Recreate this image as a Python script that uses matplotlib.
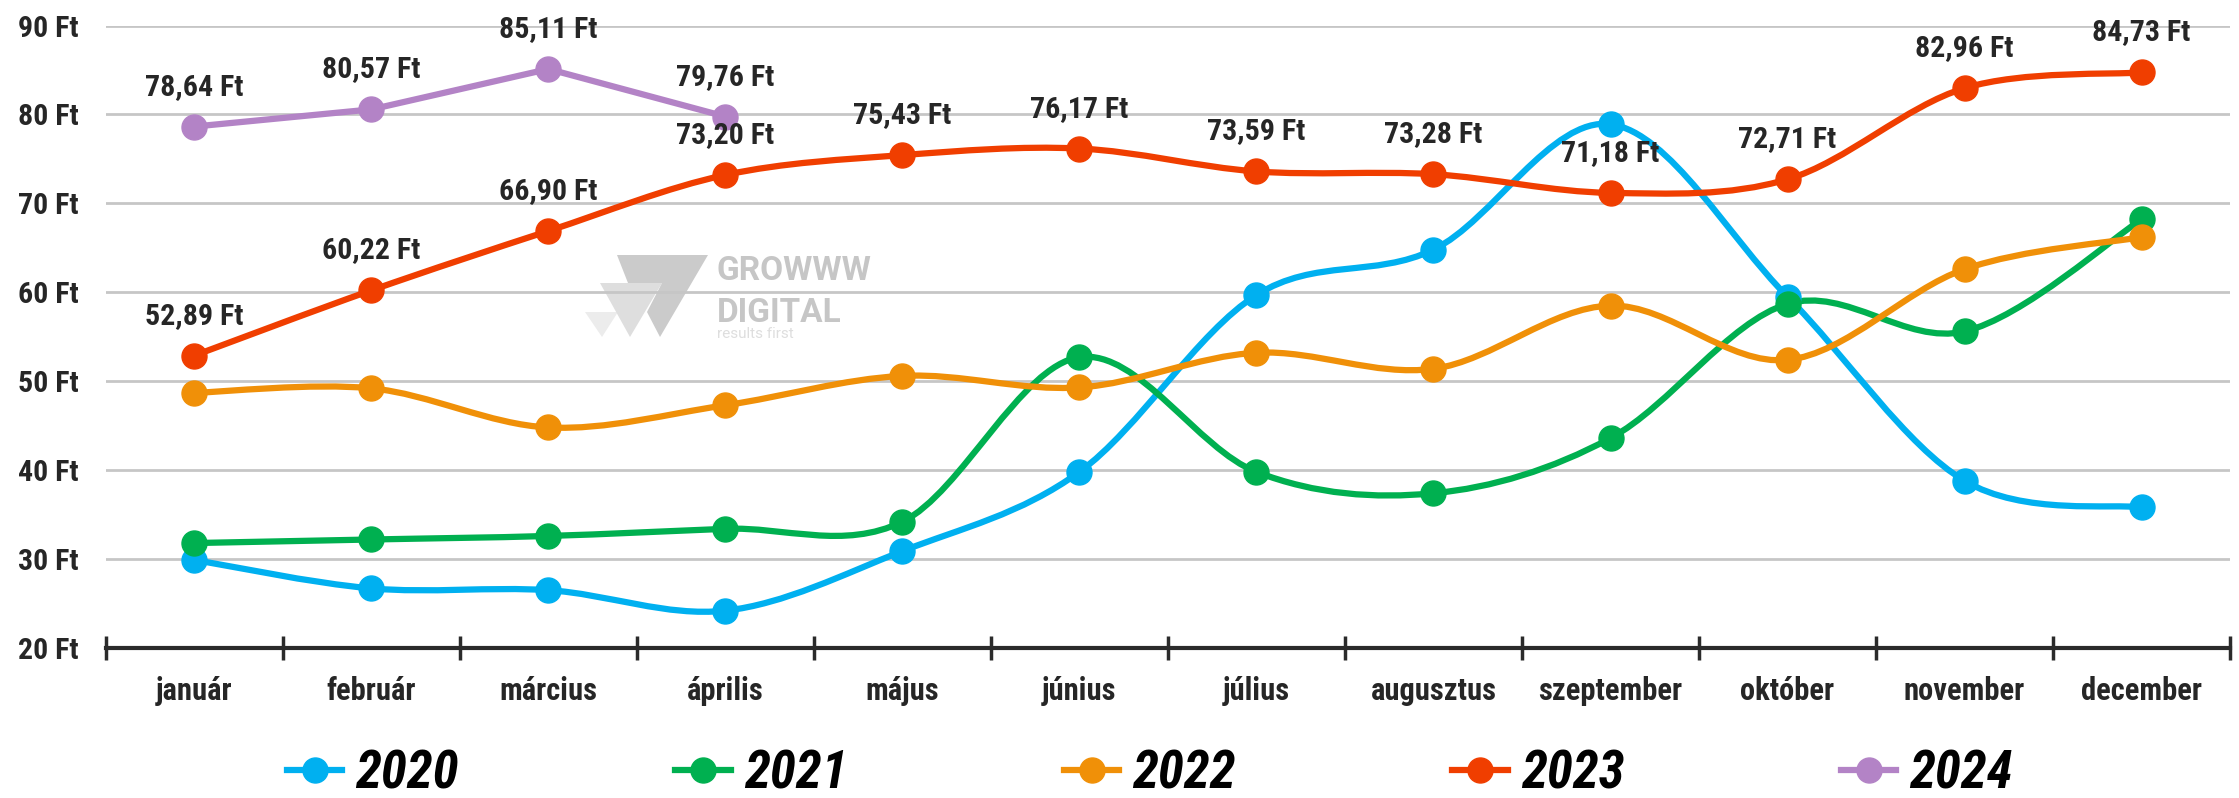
import numpy as np
import matplotlib
matplotlib.use("Agg")
import matplotlib.pyplot as plt
from matplotlib.path import Path
from matplotlib.patches import PathPatch, Polygon
from matplotlib.lines import Line2D

plt.rcParams['font.family'] = ['Roboto Condensed', 'Roboto', 'DejaVu Sans']

months = ["január", "február", "március", "április", "május", "június",
          "július", "augusztus", "szeptember", "október", "november", "december"]

y2020 = [29.9, 26.7, 26.5, 24.2, 30.9, 39.8, 59.7, 64.8, 78.9, 59.5, 38.8, 35.8]
y2021 = [31.8, 32.2, 32.6, 33.4, 34.2, 52.7, 39.8, 37.4, 43.6, 58.7, 55.6, 68.2]
y2022 = [48.7, 49.2, 44.8, 47.3, 50.6, 49.3, 53.2, 51.4, 58.5, 52.4, 62.6, 66.2]
y2023 = [52.89, 60.22, 66.90, 73.20, 75.43, 76.17, 73.59, 73.28, 71.18, 72.71, 82.96, 84.73]
y2024 = [78.64, 80.57, 85.11, 79.76]

series = [
    ("2020", y2020, "#00B0F0", True, False),
    ("2021", y2021, "#00B050", True, False),
    ("2022", y2022, "#F09008", True, False),
    ("2023", y2023, "#F03E00", True, True),
    ("2024", y2024, "#B383C6", False, True),
]

TXT = "#262626"
W, H = 2239, 798


def smooth_path(xs, ys):
    # Excel-like smoothed line: cubic bezier through the points
    p = np.column_stack([xs, ys]).astype(float)
    n = len(p)
    verts = [p[0]]
    codes = [Path.MOVETO]
    for i in range(n - 1):
        p0 = p[i - 1] if i > 0 else p[i]
        p1 = p[i]
        p2 = p[i + 1]
        p3 = p[i + 2] if i + 2 < n else p[i + 1]
        c1 = p1 + (p2 - p0) / 6.0
        c2 = p2 - (p3 - p1) / 6.0
        verts += [c1, c2, p2]
        codes += [Path.CURVE4] * 3
    return Path(verts, codes)


def fig_poly(pts, color):
    xy = [(x / W, 1 - y / H) for x, y in pts]
    return Polygon(xy, closed=True, transform=fig.transFigure, facecolor=color,
                   edgecolor='none', zorder=-1)


fig = plt.figure(figsize=(W / 100, H / 100), dpi=100)
ax = fig.add_axes([0.0473, 0.188, 0.9487, 0.78])
ax.set_facecolor('none')

# watermark logo (behind the grid)
fig.add_artist(fig_poly([(585, 312), (618, 312), (602, 337)], '#ececec'))
fig.add_artist(fig_poly([(600, 283), (662, 283), (630, 337)], '#dedede'))
fig.add_artist(fig_poly([(617, 255), (708, 255), (660, 337), (647, 312),
                         (662, 283), (628, 283)], '#cbcbcb'))
fig.text(717 / W, 1 - 280 / H, "GROWWW", family='Roboto', fontsize=24, fontweight='bold',
         color='#c6c6c6', zorder=-1)
fig.text(717 / W, 1 - 322 / H, "DIGITAL", family='Roboto', fontsize=24, fontweight='bold',
         color='#c6c6c6', zorder=-1)
fig.text(717 / W, 1 - 338 / H, "results first", family='Roboto', fontsize=11,
         color='#dedede', zorder=-1)

for name, vals, col, smooth, labels in series:
    xs = np.arange(len(vals))
    if smooth:
        ax.add_patch(PathPatch(smooth_path(xs, vals), fill=False, edgecolor=col,
                               lw=4.5, capstyle='round', joinstyle='round', zorder=3))
    else:
        ax.plot(xs, vals, color=col, lw=4.5, solid_capstyle='round', zorder=3)
    ax.plot(xs, vals, 'o', color=col, ms=18, ls='none', zorder=4)
    if labels:
        for x, v in zip(xs, vals):
            ax.annotate(f"{v:.2f} Ft".replace(".", ","), (x, v), xytext=(0, 23),
                        textcoords='offset points', ha='center', va='baseline',
                        fontsize=21.5, fontweight='bold', color=TXT, zorder=5)

ax.set_xlim(-0.5, 11.5)
ax.set_ylim(20, 90)
ax.set_yticks(range(20, 91, 10))
ax.set_yticklabels([f"{v} Ft" for v in range(20, 91, 10)])
ax.tick_params(axis='y', length=0, pad=20, labelsize=21.5, labelcolor=TXT)
for lab in ax.get_yticklabels():
    lab.set_fontweight('bold')
ax.yaxis.grid(True, color='#c6c6c6', lw=2)
ax.set_axisbelow(True)

ax.set_xticks(np.arange(-0.5, 12, 1))
ax.set_xticklabels([])
ax.set_xticks(np.arange(12), minor=True)
ax.set_xticklabels(months, minor=True, fontsize=22, fontweight='bold', color=TXT)
ax.tick_params(axis='x', which='major', direction='inout', length=17, width=2.5, color='#2b2b2b')
ax.tick_params(axis='x', which='minor', length=0, pad=20)

for s in ['left', 'right', 'top']:
    ax.spines[s].set_visible(False)
ax.spines['bottom'].set_color('#2b2b2b')
ax.spines['bottom'].set_linewidth(3)
ax.spines['bottom'].set_zorder(6)

handles = [Line2D([0], [0], color=c, lw=4.5, marker='o', ms=18) for _, _, c, _, _ in series]
fig.legend(handles, [s[0] for s in series], loc='center', bbox_to_anchor=(0.5136, 0.03),
           ncol=5, frameon=False, handlelength=1.05, handletextpad=0.25, columnspacing=4.1,
           prop={'size': 38, 'weight': 'bold', 'style': 'italic'})

fig.savefig("out.png", dpi=100)
